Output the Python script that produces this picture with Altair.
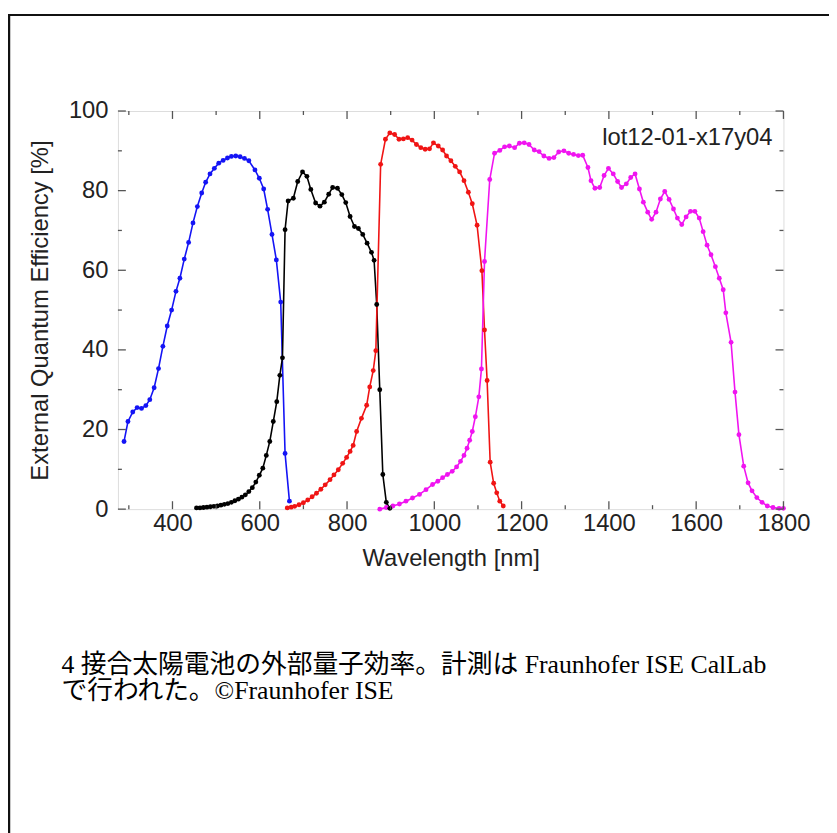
import altair as alt
import pandas as pd

# ---------------- data ----------------
blue_wl = [289, 298, 309, 319, 329, 339, 348, 358, 368, 378, 388, 398, 408, 417, 427, 437, 447, 457,
           467, 476, 486, 496, 506, 516, 526, 535, 545, 555, 565, 575, 589, 599, 609, 618, 628, 638,
           648, 658, 668]
blue_eqe = [17, 22, 24.4, 25.5, 25.3, 26, 27.5, 30.5, 35.3, 40.9, 46, 50, 54.7, 58, 62.8, 67, 71.9, 76,
            79.4, 82.1, 84.2, 85.6, 86.9, 87.6, 88.2, 88.6, 88.7, 88.5, 88.1, 87.5, 85.2, 83.1, 80.4, 75.3, 69, 62.6,
            52, 14, 2]

black_wl = [455, 463, 471, 479, 487, 495, 503, 511, 519, 527, 535, 543, 551, 559, 567, 575, 583, 591,
            599, 607, 615, 623, 631, 639, 646, 652, 658, 665, 677, 687, 698, 708, 717, 728, 738, 748,
            758, 767, 778, 788, 797, 807, 817, 826, 836, 846, 856, 862, 868, 875, 882, 890, 898]
black_eqe = [0.3, 0.3, 0.4, 0.5, 0.6, 0.7, 0.8, 1.0, 1.2, 1.4, 1.7, 2.1, 2.5, 3.0, 3.6, 4.4, 5.4, 6.8,
             8.5, 10.3, 13.5, 17, 22, 27, 33.6, 38, 70.2, 77.4, 78.1, 82.3, 84.7, 83.6, 80.3, 76.9, 76.1, 77.1,
             79.1, 80.8, 80.6, 79, 77, 73.5, 71, 70.5, 69, 66.8, 64.5, 62.5, 51.4, 30, 8.7, 1.7, 0.2]

red_wl = [663, 672, 680, 690, 700, 710, 720, 730, 740, 750, 761, 770, 780, 790, 799, 807, 814, 822,
          833, 845, 852, 860, 866, 877, 888, 898, 909, 919, 929, 939, 949, 959, 969, 979, 989, 998,
          1009, 1019, 1028, 1038, 1048, 1058, 1068, 1078, 1087, 1098, 1109, 1115, 1121, 1128, 1136, 1143,
          1150, 1158]
red_eqe = [0.3, 0.5, 0.7, 1.1, 1.6, 2.3, 3.1, 4.0, 5.0, 6.1, 7.4, 8.6, 9.9, 11.5, 13, 14.5, 16, 19.5,
           22.8, 26.1, 30.7, 34.8, 39.8, 86.6, 92.9, 94.5, 94.1, 92.9, 93, 93.3, 92.7, 91.6, 90.8, 90.4, 90.5, 92,
           91.2, 90.2, 88.7, 87.5, 86.1, 84.7, 82.5, 79.6, 76.7, 71.3, 59.9, 45, 32.3, 11.8, 6.5, 4.1,
           2, 0.8]

magenta_wl = [875, 890, 905, 920, 935, 950, 966, 981, 996, 1008, 1019, 1030, 1041, 1051, 1060, 1068, 1075,
              1081, 1087, 1094, 1102, 1108, 1115, 1127, 1138, 1150, 1161, 1172, 1184, 1195, 1206, 1217,
              1229, 1240, 1251, 1263, 1274, 1285, 1297, 1308, 1319, 1330, 1340, 1352, 1359, 1368, 1379,
              1389, 1399, 1410, 1420, 1429, 1440, 1450, 1460, 1470, 1479, 1489, 1498, 1508, 1518, 1528,
              1538, 1548, 1557, 1567, 1577, 1587, 1597, 1607, 1616, 1625, 1634, 1644, 1653, 1662, 1668,
              1680, 1689, 1698, 1709, 1719, 1728, 1739, 1751, 1763, 1776, 1790, 1800]
magenta_eqe = [0, 0.4, 0.8, 1.3, 2, 2.8, 3.7, 4.9, 6.2, 7, 7.9, 8.7, 9.5, 10.6, 12, 13.5, 15.3,
               17.3, 19.5, 23.2, 28.2, 35.2, 62.2, 82.8, 89.4, 90.1, 91, 91.2, 90.8, 91.9, 92, 91.6,
               90.2, 89.8, 88.7, 88.1, 88.3, 89.7, 90, 89.4, 89.1, 88.8, 88.9, 85.8, 82.5, 80.6, 80.8,
               83.8, 85.6, 84.2, 82.3, 80.8, 81.7, 83.3, 84.2, 80.4, 77.1, 74.6, 72.8, 74.6, 77.9, 79.8,
               77.8, 75.4, 73.1, 71.5, 73.4, 74.8, 74.8, 73.1, 69.7, 66.3, 63.9, 60.9, 58, 55.1, 49.3,
               41.9, 29.4, 18.7, 10.8, 6.6, 4.6, 2.9, 1.7, 0.8, 0.4, 0.2, 0.2]

series_names = ["blue", "black", "red", "magenta"]
series_colors = ["#1414f5", "#000000", "#f01414", "#f014f0"]

x_major = [400, 600, 800, 1000, 1200, 1400, 1600, 1800]
x_minor = [300, 500, 700, 900, 1100, 1300, 1500, 1700]
y_major = [0, 20, 40, 60, 80, 100]
y_minor = [10, 30, 50, 70, 90]

sample_label = "lot12-01-x17y04"
x_title = "Wavelength [nm]"
y_title = "External Quantum Efficiency [%]"
caption_lines = ["4 接合太陽電池の外部量子効率。計測は Fraunhofer ISE CalLab",
                 "で行われた。©Fraunhofer ISE"]

# ---------------- build tables ----------------
rows = []
for name, wl, eq in [("blue", blue_wl, blue_eqe), ("black", black_wl, black_eqe),
                     ("red", red_wl, red_eqe), ("magenta", magenta_wl, magenta_eqe)]:
    assert len(wl) == len(eq), name
    for i, (w, e) in enumerate(zip(wl, eq)):
        rows.append({"series": name, "wl": w, "eqe": e, "i": i})
df = pd.DataFrame(rows)

W, H = 672, 402
FONT = "Liberation Sans"
xs = alt.Scale(domain=[275, 1800], nice=False, zero=False)
ys = alt.Scale(domain=[0, 100], nice=False, zero=False)

base = alt.Chart(df)
lines = base.mark_line(strokeWidth=1.6, point=alt.OverlayMarkDef(filled=True, size=24, opacity=1)).encode(
    x=alt.X("wl:Q", scale=xs, axis=alt.Axis(values=x_major, format="d", title=x_title, ticks=False, tickSize=0,
                                             domain=False, grid=False, labelFont=FONT, labelFontSize=24,
                                             labelColor="#222", labelPadding=3, labelFlush=False,
                                             titleFont=FONT, titleFontSize=24, titleFontWeight="normal",
                                             titleColor="#222", titlePadding=11)),
    y=alt.Y("eqe:Q", scale=ys, axis=alt.Axis(values=y_major, format="d", title=y_title, ticks=False, tickSize=0,
                                              domain=False, grid=False, labelFont=FONT, labelFontSize=24,
                                              labelColor="#222", labelPadding=10, labelFlush=False,
                                              titleFont=FONT, titleFontSize=24, titleFontWeight="normal",
                                              titleColor="#222", titlePadding=16)),
    color=alt.Color("series:N", scale=alt.Scale(domain=series_names, range=series_colors), legend=None),
    detail="series:N",
    order="i:Q",
)

tick_color = "#555"
xmaj = pd.DataFrame({"v": x_major})
xmin = pd.DataFrame({"v": x_minor})
ymaj = pd.DataFrame({"v": y_major})
ymin = pd.DataFrame({"v": y_minor})

def xticks(d, L):
    b = alt.Chart(d).mark_rule(color=tick_color, strokeWidth=1.3)
    return (b.encode(x=alt.X("v:Q", scale=xs), y=alt.value(H), y2=alt.value(H - L)) +
            b.encode(x=alt.X("v:Q", scale=xs), y=alt.value(0), y2=alt.value(L)))

def yticks(d, L):
    b = alt.Chart(d).mark_rule(color=tick_color, strokeWidth=1.3)
    return (b.encode(y=alt.Y("v:Q", scale=ys), x=alt.value(0), x2=alt.value(L)) +
            b.encode(y=alt.Y("v:Q", scale=ys), x=alt.value(W), x2=alt.value(W - L)))

label_df = pd.DataFrame({"wl": [1775], "eqe": [93.3], "t": [sample_label]})
label = alt.Chart(label_df).mark_text(font=FONT, fontSize=24, color="#222", align="right",
                                      baseline="middle").encode(
    x=alt.X("wl:Q", scale=xs), y=alt.Y("eqe:Q", scale=ys), text="t:N")

cap_font = "Liberation Serif, Noto Sans CJK JP"
cap1 = alt.Chart(pd.DataFrame({"t": [caption_lines[0]]})).mark_text(
    font=cap_font, fontSize=26, color="#000", align="left", baseline="middle").encode(
    x=alt.value(-57), y=alt.value(559), text="t:N")
cap2 = alt.Chart(pd.DataFrame({"t": [caption_lines[1]]})).mark_text(
    font=cap_font, fontSize=26, color="#000", align="left", baseline="middle").encode(
    x=alt.value(-57), y=alt.value(586), text="t:N")

frame_top = alt.Chart(pd.DataFrame({"a": [0]})).mark_rule(color="#111", strokeWidth=2).encode(
    x=alt.value(-110), x2=alt.value(730), y=alt.value(-97))
frame_left = alt.Chart(pd.DataFrame({"a": [0]})).mark_rule(color="#111", strokeWidth=2.5).encode(
    x=alt.value(-110), y=alt.value(-98), y2=alt.value(730))

chart = alt.layer(
    lines, xticks(xmaj, 8), xticks(xmin, 4), yticks(ymaj, 8), yticks(ymin, 4),
    label, cap1, cap2, frame_top, frame_left
).properties(
    width=W, height=H,
    autosize=alt.AutoSizeParams(type="none"),
    padding={"left": 111, "top": 100, "right": 46, "bottom": 323},
).configure_view(stroke="#555", strokeWidth=1.5).configure(background="white")

chart.save("out.html", embed_options={"renderer": "svg", "actions": False})
